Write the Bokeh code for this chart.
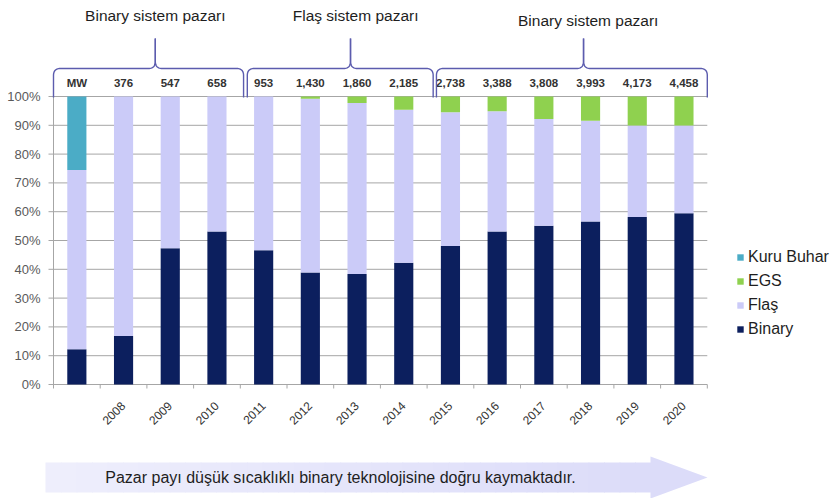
import numpy as np
from bokeh.plotting import figure
from bokeh.models import Range1d, Legend, LegendItem, ColumnDataSource
from bokeh.core.properties import value
from bokeh.embed import file_html
from bokeh.resources import INLINE

# ---------------- data ----------------
categories = ["", "2008", "2009", "2010", "2011", "2012", "2013", "2014",
              "2015", "2016", "2017", "2018", "2019", "2020"]
mw_labels = ["MW", "376", "547", "658", "953", "1,430", "1,860", "2,185",
             "2,738", "3,388", "3,808", "3,993", "4,173", "4,458"]
binary = [12.2, 16.8, 47.3, 53.1, 46.6, 38.9, 38.4, 42.3, 48.1, 53.1, 55.1, 56.6, 58.2, 59.5]
flas = [62.3, 83.2, 52.7, 46.9, 53.4, 60.3, 59.3, 53.1, 46.4, 41.8, 37.1, 35.0, 31.7, 30.4]
egs = [0, 0, 0, 0, 0, 0.8, 2.3, 4.6, 5.5, 5.1, 7.8, 8.4, 10.1, 10.1]
kuru_buhar = [25.5, 0, 0, 0, 0, 0, 0, 0, 0, 0, 0, 0, 0, 0]
series_names = ["Binary", "Flaş", "EGS", "Kuru Buhar"]
y_ticks = [0, 10, 20, 30, 40, 50, 60, 70, 80, 90, 100]
y_tick_labels = [f"{t}%" for t in y_ticks]
market_titles = ["Binary sistem pazarı", "Flaş sistem pazarı", "Binary sistem pazarı"]
footer_text = "Pazar payı düşük sıcaklıklı binary teknolojisine doğru kaymaktadır."

colors = ["#0c1f5e", "#cbcbf8", "#8fd14f", "#4bacc6"]

# ---------------- layout constants (screen -> data) ----------------
W, H = 840, 498
PX_X = 46.7      # px per category
PX_Y = 2.88      # px per percent
left_px, zero_px = 53, 384
x0 = -left_px / PX_X
y0 = -(H - zero_px) / PX_Y
dx = 1 / PX_X
dy = 1 / PX_Y

p = figure(width=W, height=H, x_range=Range1d(x0, x0 + W / PX_X),
           y_range=Range1d(y0, y0 + H / PX_Y), output_backend="svg",
           toolbar_location=None, x_axis_location=None, y_axis_location=None,
           min_border=0, min_border_left=0, min_border_right=0,
           min_border_top=0, min_border_bottom=0)
p.outline_line_color = None
p.background_fill_color = "white"
p.border_fill_color = "white"
for g in p.grid:
    g.visible = False

n = len(categories)
xc = [i + 0.5 for i in range(n)]
grid_col = "#a6a6a6"

# gridlines
p.segment(x0=[-5 * dx] * len(y_ticks), y0=y_ticks, x1=[n] * len(y_ticks), y1=y_ticks,
          line_color=grid_col, line_width=1)
# y axis line
p.segment(x0=[0], y0=[0], x1=[0], y1=[100], line_color=grid_col, line_width=1)
# x tick marks
p.segment(x0=list(range(n + 1)), y0=[0] * (n + 1), x1=list(range(n + 1)),
          y1=[-4 * dy] * (n + 1), line_color=grid_col, line_width=1)

src = ColumnDataSource(dict(x=xc, binary=binary, flas=flas, egs=egs, kuru=kuru_buhar,
                            mw=mw_labels, cat=categories))
rs = p.vbar_stack(["binary", "flas", "egs", "kuru"], x="x", width=0.41,
                  fill_color=colors, line_color=None, source=src)

font = value("Liberation Sans")

# y tick labels
p.text(x=[-13 * dx] * len(y_ticks), y=y_ticks, text=y_tick_labels, text_font=font,
       text_font_size="13px", text_color="#5a5a5a", text_align="right",
       text_baseline="middle")

# x category labels (rotated)
p.text(x=[c - 0.01 for c in xc], y=[-(19 * dy)] * n, text=categories, text_font=font,
       text_font_size="12px", text_color="#333333", text_align="right",
       text_baseline="middle", angle=np.pi / 4)

# MW labels above bars
p.text(x=xc, y=[100 + 14 * dy] * n, text=mw_labels, text_font=font,
       text_font_size="11.5px", text_font_style="bold", text_color="#333333",
       text_align="center", text_baseline="middle")

# curly braces over market groups
brace_spans = [(0.0, 4.07, 2.18), (4.15, 8.13, 6.36), (8.2, 14.0, 11.35)]
title_x = [2.18, 6.47, 11.45]
title_y = [100 + 81 * dy, 100 + 81 * dy, 100 + 76 * dy]
y_bot = 100 - 1 * dy
y_h = 100 + 28 * dy
y_pk = 100 + 58 * dy
rx, ry = 7 * dx, 7 * dy


def qb(P0, P1, P2, k=14):
    t = np.linspace(0, 1, k)
    xs = (1 - t) ** 2 * P0[0] + 2 * (1 - t) * t * P1[0] + t ** 2 * P2[0]
    ys = (1 - t) ** 2 * P0[1] + 2 * (1 - t) * t * P1[1] + t ** 2 * P2[1]
    return list(xs), list(ys)


bxs, bys = [], []
for a, b, c in brace_spans:
    for side in (-1, 1):
        end = a if side == -1 else b
        s = 1 if side == -1 else -1   # direction from end to center
        xs = [end]
        ys = [y_bot]
        cx, cy = qb((end, y_h - ry), (end, y_h), (end + s * rx, y_h))
        xs += cx
        ys += cy
        cx, cy = qb((c - s * rx, y_h), (c, y_h), (c, y_h + ry))
        xs += cx
        ys += cy
        xs.append(c)
        ys.append(y_pk)
        bxs.append(xs)
        bys.append(ys)
p.multi_line(xs=bxs, ys=bys, line_color="#5c5cae", line_width=1.4)

p.text(x=title_x, y=title_y, text=market_titles, text_font=font,
       text_font_size="15.5px", text_color="#1e1e1e", text_align="center",
       text_baseline="middle")

# gradient arrow at bottom
ax0, axh, axt = -8 * dx, (650 - left_px) * dx, (707 - left_px) * dx
ayc = -(477 - zero_px) * dy
bh, hh = 15 * dy, 21 * dy


def half(xv):
    if xv <= axh:
        return bh
    return hh * (axt - xv) / (axt - axh)


edges = list(np.linspace(ax0, axh, 40))
c_start = np.array([0xee, 0xee, 0xfc])
c_end = np.array([0xdc, 0xdc, 0xf9])
pxs, pys, pcols = [], [], []
for i in range(len(edges) - 1):
    xa, xb = edges[i], edges[i + 1]
    pxs.append([xa, xb + 0.02, xb + 0.02, xa])
    pys.append([ayc + bh, ayc + bh, ayc - bh, ayc - bh])
    f = i / (len(edges) - 2)
    col = c_start + (c_end - c_start) * f
    pcols.append("#%02x%02x%02x" % tuple(int(round(v)) for v in col))
p.patches(xs=pxs, ys=pys, fill_color=pcols, line_color=None)
hx = [axh, axt, axh]
hy = [ayc + hh, ayc, ayc - hh]
p.patch(x=hx, y=hy, fill_color="#dcdcf9", line_color=None)

p.text(x=[(340 - left_px) * dx], y=[ayc], text=[footer_text], text_font=font,
       text_font_size="16px", text_color="#1e1e1e", text_align="center",
       text_baseline="middle")

# legend
items = [LegendItem(label=series_names[k], renderers=[rs[k]]) for k in (3, 2, 1, 0)]
legend = Legend(items=items, location=(736, 160), glyph_width=8, glyph_height=8,
                label_height=16, spacing=6, padding=0, margin=0,
                label_standoff=4, label_text_font_size="16px",
                label_text_font="Liberation Sans", label_text_color="#1e1e1e",
                border_line_color=None, background_fill_alpha=0)
p.add_layout(legend)

open("out.html", "w").write(file_html(p, INLINE))
